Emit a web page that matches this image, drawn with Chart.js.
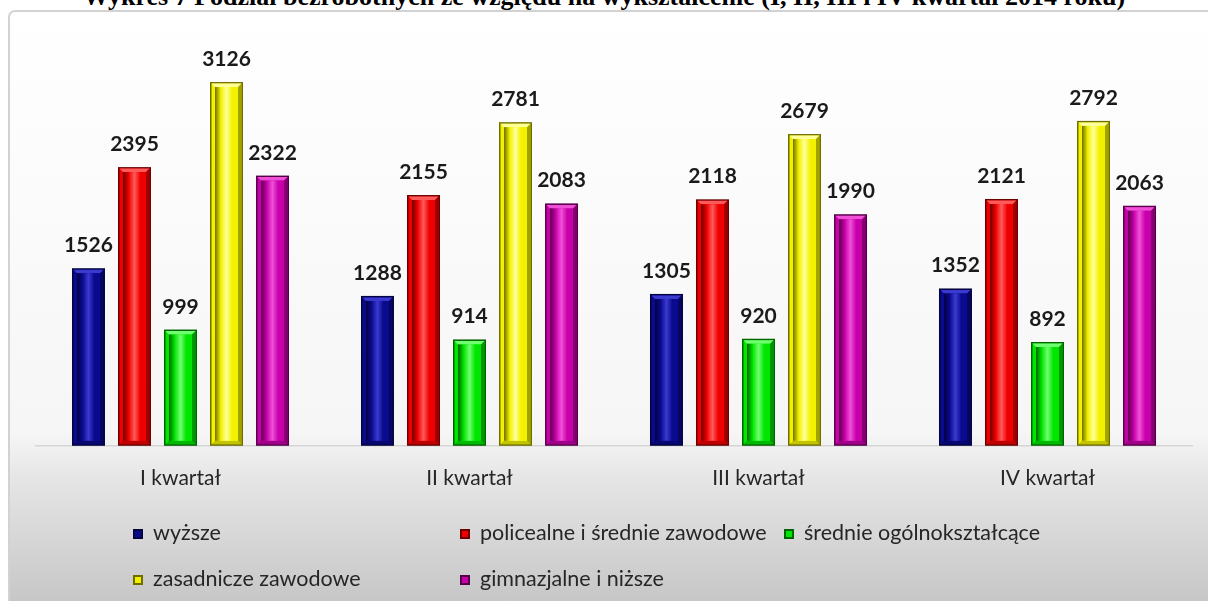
<!DOCTYPE html>
<html lang="pl">
<head>
  <meta charset="UTF-8">
  <title>Wykres 7</title>
  <script src="https://cdn.jsdelivr.net/npm/chart.js"></script>
  <style>
    html, body {
      margin: 0;
      padding: 0;
      width: 1208px;
      height: 601px;
      overflow: hidden;
      background: #fff;
      font-family: Lato, "Open Sans", sans-serif;
    }
    .title {
      position: absolute;
      left: 0;
      width: 1208px;
      top: -18px;
      text-align: center;
      font-family: "Liberation Serif", "Times New Roman", serif;
      font-weight: bold;
      font-size: 26px;
      color: #000;
      white-space: nowrap;
    }
    .frame {
      position: absolute;
      left: 8px;
      top: 10px;
      width: 1220px;
      height: 620px;
      border: 2px solid #d2d2d2;
      border-radius: 7px;
      background: linear-gradient(to bottom, #ffffff 0px, #f6f6f6 420px, #e6e6e6 465px, #c4c4c4 600px);
    }
    canvas {
      position: absolute;
      left: 0;
      top: 0;
    }
    .legend-item {
      position: absolute;
      font-size: 21.5px;
      line-height: 24px;
      color: #262626;
      white-space: nowrap;
    }
    .legend-item span.box {
      display: inline-block;
      width: 10px;
      height: 10px;
      margin-right: 10px;
      vertical-align: 1px;
      box-sizing: border-box;
    }
  </style>
</head>
<body>
  <div class="frame"></div>
  <div class="title">Wykres 7 Podział bezrobotnych ze względu na wykształcenie (I, II, III i IV kwartał 2014 roku)</div>
  <canvas id="chart" width="1208" height="601"></canvas>
  <div id="legend"></div>

  <script>
    const categories = ["I kwartał", "II kwartał", "III kwartał", "IV kwartał"];
    const seriesNames = [
      "wyższe",
      "policealne i średnie zawodowe",
      "średnie ogólnokształcące",
      "zasadnicze zawodowe",
      "gimnazjalne i niższe"
    ];
    const wyzsze = [1526, 1288, 1305, 1352];
    const policealne = [2395, 2155, 2118, 2121];
    const srednieOgolne = [999, 914, 920, 892];
    const zasadnicze = [3126, 2781, 2679, 2792];
    const gimnazjalne = [2322, 2083, 1990, 2063];

    const seriesValues = [wyzsze, policealne, srednieOgolne, zasadnicze, gimnazjalne];
    const baseColors = ["#0a0a8e", "#ee0000", "#00e600", "#f2f200", "#c800aa"];
    const darkColors = ["#03033f", "#6a0000", "#006400", "#6e6e00", "#56004a"];
    const lightColors = ["#3a3ad0", "#ff5a5a", "#70ff70", "#ffff9a", "#f050d8"];

    // legend positions (left of marker, top of line)
    const legendPos = [[133, 520], [460, 520], [784, 520], [133, 566], [460, 566]];

    // bevelled bars + value labels
    const bevelPlugin = {
      id: 'bevel',
      afterDatasetsDraw(chart) {
        const ctx = chart.ctx;
        chart.data.datasets.forEach((ds, di) => {
          const meta = chart.getDatasetMeta(di);
          meta.data.forEach((bar, i) => {
            const w = bar.width;
            const x0 = bar.x - w / 2, x1 = bar.x + w / 2;
            const y0 = bar.y, y1 = bar.base;
            const b = 5;
            ctx.save();
            ctx.fillStyle = darkColors[di];
            ctx.fillRect(x0, y0, w, y1 - y0);
            ctx.fillStyle = baseColors[di];
            ctx.fillRect(x0 + 1.5, y0 + 1.5, w - 3, y1 - y0 - 3);
            // top face
            ctx.fillStyle = lightColors[di];
            ctx.beginPath();
            ctx.moveTo(x0 + 1.5, y0 + 1.5); ctx.lineTo(x1 - 1.5, y0 + 1.5);
            ctx.lineTo(x1 - b, y0 + b); ctx.lineTo(x0 + b, y0 + b); ctx.closePath();
            ctx.fill();
            // right face
            ctx.fillStyle = darkColors[di];
            ctx.globalAlpha = 0.6;
            ctx.beginPath();
            ctx.moveTo(x1 - 1.5, y0 + 1.5); ctx.lineTo(x1 - 1.5, y1 - 1.5);
            ctx.lineTo(x1 - b, y1 - b); ctx.lineTo(x1 - b, y0 + b); ctx.closePath();
            ctx.fill();
            // bottom face
            ctx.globalAlpha = 0.35;
            ctx.beginPath();
            ctx.moveTo(x0 + 1.5, y1 - 1.5); ctx.lineTo(x1 - 1.5, y1 - 1.5);
            ctx.lineTo(x1 - b, y1 - b); ctx.lineTo(x0 + b, y1 - b); ctx.closePath();
            ctx.fill();
            ctx.globalAlpha = 1;
            // inner panel
            const g = ctx.createLinearGradient(x0 + b, 0, x1 - b, 0);
            g.addColorStop(0, darkColors[di]);
            g.addColorStop(0.25, baseColors[di]);
            g.addColorStop(0.5, lightColors[di]);
            g.addColorStop(0.75, baseColors[di]);
            g.addColorStop(1, baseColors[di]);
            ctx.fillStyle = g;
            ctx.fillRect(x0 + b, y0 + b, w - 2 * b, y1 - y0 - 2 * b);
            // value label
            ctx.fillStyle = "#1a1a1a";
            ctx.font = "bold 21px Lato, 'Open Sans', sans-serif";
            ctx.textAlign = "center";
            ctx.textBaseline = "alphabetic";
            ctx.fillText(String(ds.data[i]), bar.x, y0 - 16);
            ctx.restore();
          });
        });
      }
    };

    new Chart(document.getElementById('chart'), {
      type: 'bar',
      data: {
        labels: categories,
        datasets: seriesNames.map((name, i) => ({
          label: name,
          data: seriesValues[i],
          backgroundColor: 'rgba(0,0,0,0)',
          borderWidth: 0,
          categoryPercentage: 0.796,
          barPercentage: 0.717
        }))
      },
      options: {
        responsive: false,
        animation: false,
        layout: {
          padding: { left: 36, right: 16, top: 42, bottom: 90 }
        },
        scales: {
          x: {
            grid: { display: false, drawTicks: false },
            border: { color: '#d6d6d6', width: 1.5 },
            ticks: {
              color: '#262626',
              padding: 20,
              font: { family: "Lato, 'Open Sans', sans-serif", size: 21 }
            }
          },
          y: {
            display: false,
            min: 0,
            max: 3470
          }
        },
        plugins: {
          legend: { display: false },
          tooltip: { enabled: false }
        }
      },
      plugins: [bevelPlugin]
    });

    const legend = document.getElementById('legend');
    seriesNames.forEach((name, i) => {
      const item = document.createElement('div');
      item.className = 'legend-item';
      item.style.left = legendPos[i][0] + 'px';
      item.style.top = legendPos[i][1] + 'px';
      item.innerHTML = '<span class="box" style="background:' + baseColors[i] +
        ';border:2px solid ' + darkColors[i] + '"></span>' + name;
      legend.appendChild(item);
    });
  </script>
</body>
</html>
